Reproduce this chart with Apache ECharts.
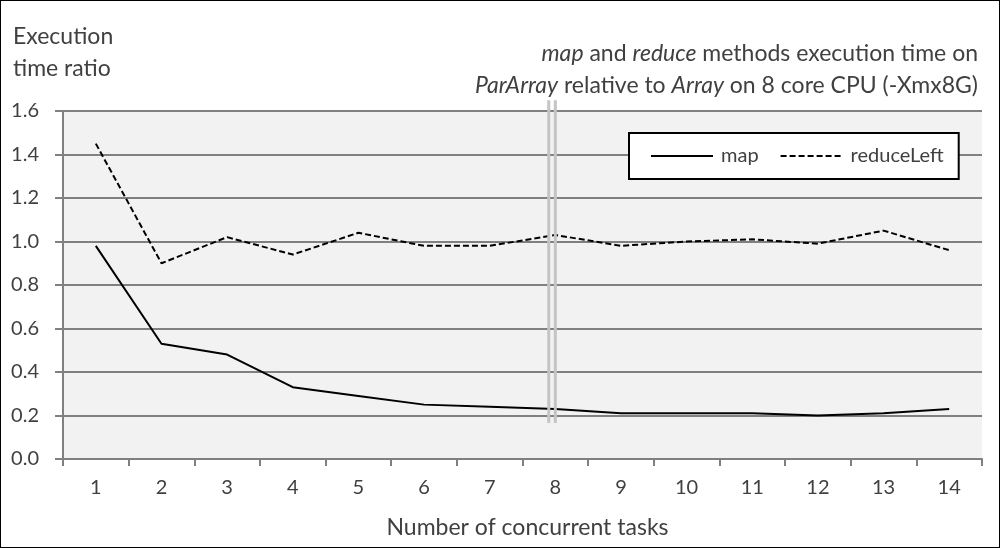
<!DOCTYPE html>
<html><head><meta charset="utf-8">
<script src="https://cdn.jsdelivr.net/npm/echarts@6/dist/echarts.min.js"></script>
<style>
html,body{margin:0;padding:0;background:#fff;}
#wrap{position:relative;width:1000px;height:548px;}
#c{width:1000px;height:548px;}
#frame{position:absolute;left:0;top:0;width:1000px;height:548px;box-sizing:border-box;border:1px solid #000;pointer-events:none;}
</style></head>
<body><div id="wrap"><div id="c"></div><div id="frame"></div></div>
<script>
const categories = ['1','2','3','4','5','6','7','8','9','10','11','12','13','14'];
const mapValues = [0.98,0.53,0.48,0.33,0.29,0.25,0.24,0.23,0.21,0.21,0.21,0.20,0.21,0.23];
const reduceLeftValues = [1.45,0.90,1.02,0.94,1.04,0.98,0.98,1.03,0.98,1.00,1.01,0.99,1.05,0.96];
const titleLines = ['{i|map} and {i|reduce} methods execution time on',
                    '{i|ParArray} relative to {i|Array} on 8 core CPU (-Xmx8G)'];
const yName = 'Execution\ntime ratio';
const xName = 'Number of concurrent tasks';
const breakCategory = 7;      // index of category "8" where the double break line sits
const breakOffset = -0.1;     // second line, in category widths
const breakRange = [0.165, 1.65];

const font = 'Lato, "Open Sans", sans-serif';
const txt = '#404040';
const chart = echarts.init(document.getElementById('c'));
chart.setOption({
  animation:false,
  textStyle:{fontFamily:font},
  title:[
    {text:yName, left:8, top:16,
     textStyle:{fontFamily:font,fontSize:23,fontWeight:'normal',color:txt,lineHeight:32}}
  ],
  grid:{left:63,right:18,top:111,bottom:89,show:true,backgroundColor:'#f2f2f2',borderWidth:0,
        containLabel:false,outerBoundsMode:'none'},
  legend:{
    left:629, top:133, orient:'horizontal',
    backgroundColor:'#fff', borderColor:'#000', borderWidth:2,
    padding:[13,15,13,21], itemGap:21, itemWidth:62, itemHeight:14,
    itemStyle:{color:'rgba(0,0,0,0)',borderWidth:0,opacity:0},
    textStyle:{fontFamily:font,fontSize:20,color:txt,padding:[0,0,0,3]},
    data:['map','reduceLeft']
  },
  xAxis:{
    type:'category', data:categories, boundaryGap:true,
    name:xName, nameLocation:'middle', nameGap:57,
    nameTextStyle:{fontFamily:font,fontSize:23,color:txt,padding:[0,0,0,10]},
    axisLine:{lineStyle:{color:'#808080',width:2}},
    axisTick:{show:true,length:7,lineStyle:{color:'#808080',width:2}},
    axisLabel:{fontFamily:font,fontSize:20,color:txt,margin:19},
    splitLine:{show:false}
  },
  yAxis:{
    type:'value', min:0, max:1.6, interval:0.2,
    axisLine:{show:true,lineStyle:{color:'#808080',width:2}},
    axisTick:{show:true,length:8,lineStyle:{color:'#808080',width:2}},
    axisLabel:{fontFamily:font,fontSize:20,color:txt,margin:24,formatter:v=>v.toFixed(1)},
    splitLine:{show:true,lineStyle:{color:'#808080',width:2}}
  },
  series:[
    {name:'map',type:'line',data:mapValues,symbol:'none',
     lineStyle:{color:'#000',width:2,type:'solid'},itemStyle:{color:'#000'}},
    {name:'reduceLeft',type:'line',data:reduceLeftValues,symbol:'none',
     lineStyle:{color:'#000',width:2,type:[6,3]},itemStyle:{color:'#000'}}
  ]
});
const yTop = chart.convertToPixel({yAxisIndex:0}, breakRange[1]);
const yBot = chart.convertToPixel({yAxisIndex:0}, breakRange[0]);
const xb = chart.convertToPixel({xAxisIndex:0}, breakCategory);
const xp = chart.convertToPixel({xAxisIndex:0}, breakCategory-1);
const bw = xb - xp;
const richI = {i:{fontStyle:'italic',fontFamily:font,fontSize:23,fill:txt}};
const graphics = [xb, xb + breakOffset*bw].map(x=>({
  type:'line', z:100, shape:{x1:x,y1:yTop,x2:x,y2:yBot}, style:{stroke:'#c4c4c4',lineWidth:3}
}));
titleLines.forEach((t,k)=>{
  graphics.push({type:'text', right:22, top:42+32*k, z:100,
    style:{text:t, fontFamily:font, fontSize:23, fill:txt, rich:richI}});
});
chart.setOption({graphic: graphics});
</script></body></html>
